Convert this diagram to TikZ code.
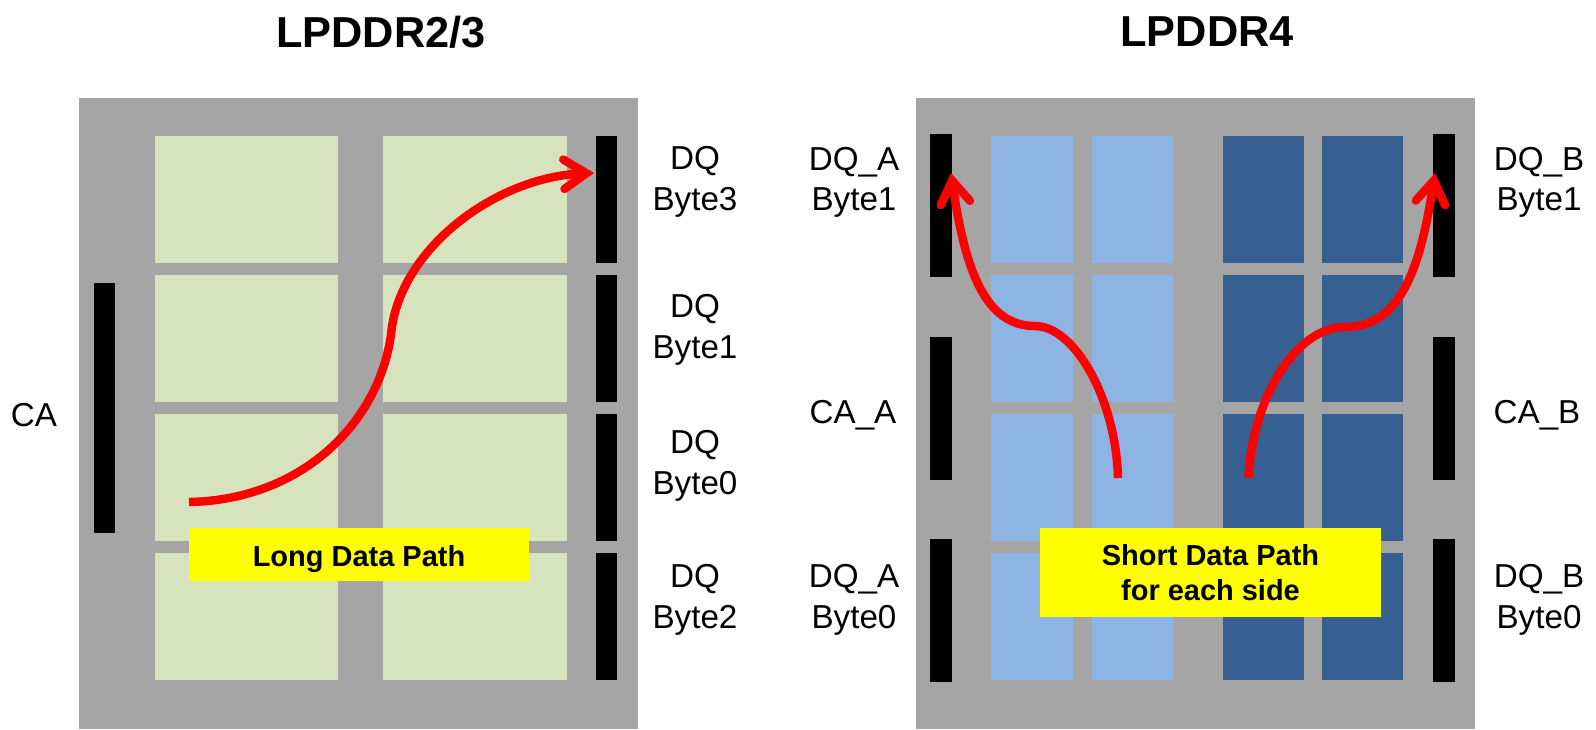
\documentclass[tikz,border=0pt]{standalone}
\usepackage{fontspec}
\setmainfont{Liberation Sans}
\usetikzlibrary{arrows.meta}
\definecolor{diegray}{HTML}{A5A5A5}
\definecolor{bankgreen}{HTML}{D7E3BC}
\definecolor{banklight}{HTML}{8EB4E3}
\definecolor{bankdark}{HTML}{376092}
\definecolor{notefill}{HTML}{FFFF00}
\definecolor{pathred}{HTML}{FF0000}
\begin{document}
\begin{tikzpicture}[x=.0125cm,y=-.0125cm,>={Straight Barb[length=8pt,width=10.5pt,line cap=round]},
 die/.style={fill=diegray,inner sep=0,minimum height=7.8875cm},
 bank/.style={inner sep=0,minimum height=1.5875cm},
 wide/.style={bank,fill=bankgreen,minimum width=2.2875cm},
 narrowa/.style={bank,fill=banklight,minimum width=1.02cm},
 narrowb/.style={bank,fill=bankdark,minimum width=1.02cm},
 pad/.style={fill=black,inner sep=0,minimum width=.27cm},
 lbl/.style={align=center,font=\fontsize{11.8}{14.4}\selectfont},
 title/.style={font=\fontsize{15.4}{18}\selectfont\bfseries},
 note/.style={fill=notefill,inner sep=0,align=center,font=\fontsize{10.3}{12.4}\selectfont\bfseries},
 path/.style={draw=pathred,line width=3pt,line join=round}]
\useasboundingbox (0,0) rectangle (1596,729);
\node[title] (titleold) at (381,32) {LPDDR2/3};
\node[title] (titlenew) at (1207,32) {LPDDR4};
% left die
\node[die,minimum width=6.9875cm] (dieold) at (358.5,413.5) {};
\node[wide] (old1) at (246.5,199.5) {};
\node[wide] (old2) at (475,199.5) {};
\node[wide] (old3) at (246.5,338.5) {};
\node[wide] (old4) at (475,338.5) {};
\node[wide] (old5) at (246.5,477.5) {};
\node[wide] (old6) at (475,477.5) {};
\node[wide] (old7) at (246.5,616.5) {};
\node[wide] (old8) at (475,616.5) {};
\node[pad,minimum height=3.125cm] (ca) at (104.5,408) {};
\node[pad,minimum height=1.5875cm] (dq3) at (606.5,199.5) {};
\node[pad,minimum height=1.5875cm] (dq1) at (606.5,338.5) {};
\node[pad,minimum height=1.5875cm] (dq0) at (606.5,477.5) {};
\node[pad,minimum height=1.5875cm] (dq2) at (606.5,616.5) {};
\node[lbl] (calbl) at (34,415) {CA};
\node[lbl] (dq3lbl) at (695,182) {DQ\\Byte3};
\node[lbl] (dq1lbl) at (695,330) {DQ\\Byte1};
\node[lbl] (dq0lbl) at (695,466) {DQ\\Byte0};
\node[lbl] (dq2lbl) at (695,600) {DQ\\Byte2};
% right die
\node[die,minimum width=6.975cm] (dienew) at (1195.5,413.5) {};
\node[narrowa] (a1) at (1032,199.5) {};
\node[narrowa] (a2) at (1133,199.5) {};
\node[narrowa] (a3) at (1032,338.5) {};
\node[narrowa] (a4) at (1133,338.5) {};
\node[narrowa] (a5) at (1032,477.5) {};
\node[narrowa] (a6) at (1133,477.5) {};
\node[narrowa] (a7) at (1032,616.5) {};
\node[narrowa] (a8) at (1133,616.5) {};
\node[narrowb] (b1) at (1263.5,199.5) {};
\node[narrowb] (b2) at (1362.5,199.5) {};
\node[narrowb] (b3) at (1263.5,338.5) {};
\node[narrowb] (b4) at (1362.5,338.5) {};
\node[narrowb] (b5) at (1263.5,477.5) {};
\node[narrowb] (b6) at (1362.5,477.5) {};
\node[narrowb] (b7) at (1263.5,616.5) {};
\node[narrowb] (b8) at (1362.5,616.5) {};
\node[pad,minimum height=1.7875cm] (dqa1) at (941,205.5) {};
\node[pad,minimum height=1.7875cm] (caa) at (941,408.75) {};
\node[pad,minimum height=1.7875cm] (dqa0) at (941,610.25) {};
\node[pad,minimum height=1.7875cm] (dqb1) at (1444,205.5) {};
\node[pad,minimum height=1.7875cm] (cab) at (1444,408.75) {};
\node[pad,minimum height=1.7875cm] (dqb0) at (1444,610.25) {};
\node[lbl] (dqa1lbl) at (854,182.5) {DQ\_A\\Byte1};
\node[lbl] (caalbl) at (853,415) {CA\_A};
\node[lbl] (dqa0lbl) at (854,600) {DQ\_A\\Byte0};
\node[lbl] (dqb1lbl) at (1539,182.5) {DQ\_B\\Byte1};
\node[lbl] (cablbl) at (1537,415) {CA\_B};
\node[lbl] (dqb0lbl) at (1539,600) {DQ\_B\\Byte0};
% data paths
\coordinate (longstart) at (189,502);
\coordinate (longmid) at (391,335);
\coordinate (longend) at (594,173);
\draw[->,path] (longstart) .. controls (300,500) and (378,425) .. (longmid)
 .. controls (398,250) and (495,177) .. (longend);
\coordinate (astart) at (1118,478);
\coordinate (amid) at (1035,326);
\coordinate (aend) at (951,173);
\draw[->,path] (astart) .. controls (1116,400) and (1075,326) .. (amid)
 .. controls (985,326) and (965,270) .. (aend);
\coordinate (bstart) at (1248.5,478);
\coordinate (bmid) at (1345,327);
\coordinate (bend) at (1435,173);
\draw[->,path] (bstart) .. controls (1252,400) and (1295,327) .. (bmid)
 .. controls (1400,327) and (1420,270) .. (bend);
\node[note,minimum width=4.25cm,minimum height=.6625cm,text height=10.5pt,text depth=2.1pt] (longnote) at (359,554.5) {Long Data Path};
\node[note,minimum width=4.2625cm,minimum height=1.1125cm] (shortnote) at (1210.5,572.5) {Short Data Path\\for each side};
\end{tikzpicture}
\end{document}
